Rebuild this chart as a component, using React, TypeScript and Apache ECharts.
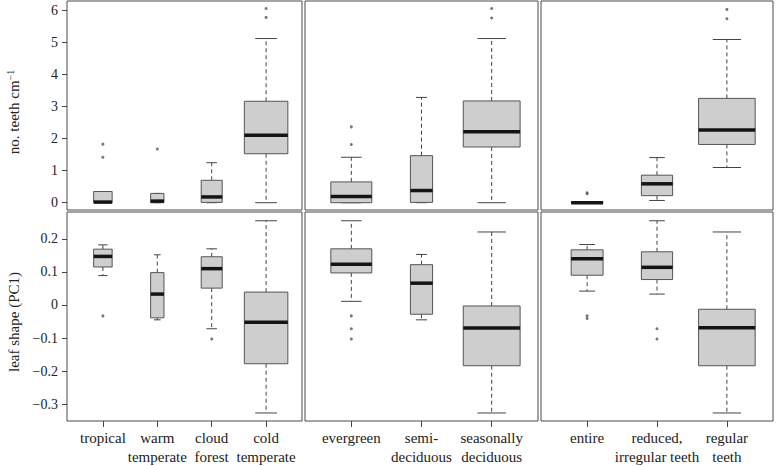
import React, { useEffect, useRef } from "react";
import * as echarts from "echarts";

// Categories
const climateCats = ["tropical", "warm\ntemperate", "cloud\nforest", "cold\ntemperate"];
const phenologyCats = ["evergreen", "semi-\ndeciduous", "seasonally\ndeciduous"];
const marginCats = ["entire", "reduced,\nirregular teeth", "regular\nteeth"];

// Relative box widths (varwidth, in category units)
const climateWidths = [0.34, 0.245, 0.386, 0.8];
const phenologyWidths = [0.584, 0.316, 0.81];
const marginWidths = [0.457, 0.447, 0.81];

// no. teeth cm^-1 : [low whisker, Q1, median, Q3, high whisker]
const teethClimate = [
  [0, 0, 0.02, 0.35, 0.35],
  [0, 0, 0.05, 0.29, 0.29],
  [0, 0.01, 0.18, 0.7, 1.25],
  [0, 1.53, 2.11, 3.17, 5.13],
];
const teethClimateOut = [[1.42, 1.83], [1.68], [], [5.79, 6.07]];
const teethPhenology = [
  [0, 0, 0.19, 0.65, 1.42],
  [0, 0.01, 0.38, 1.47, 3.29],
  [0, 1.74, 2.22, 3.18, 5.13],
];
const teethPhenologyOut = [[1.82, 2.37], [], [5.77, 6.07]];
const teethMargin = [
  [0, 0, 0, 0.01, 0.01],
  [0.07, 0.22, 0.59, 0.86, 1.41],
  [1.1, 1.82, 2.27, 3.26, 5.1],
];
const teethMarginOut = [[0.28, 0.31], [], [5.75, 6.04]];

// leaf shape (PC1)
const shapeClimate = [
  [0.089, 0.115, 0.147, 0.169, 0.182],
  [-0.045, -0.039, 0.033, 0.098, 0.152],
  [-0.072, 0.051, 0.11, 0.146, 0.17],
  [-0.327, -0.178, -0.052, 0.039, 0.255],
];
const shapeClimateOut = [[-0.033], [], [-0.103], []];
const shapePhenology = [
  [0.011, 0.097, 0.123, 0.17, 0.255],
  [-0.045, -0.028, 0.066, 0.122, 0.153],
  [-0.327, -0.184, -0.07, -0.003, 0.221],
];
const shapePhenologyOut = [[-0.033, -0.072, -0.103], [], []];
const shapeMargin = [
  [0.042, 0.09, 0.14, 0.167, 0.183],
  [0.033, 0.077, 0.114, 0.161, 0.255],
  [-0.327, -0.184, -0.069, -0.013, 0.221],
];
const shapeMarginOut = [[-0.033, -0.041], [-0.072, -0.103], []];

// Tick values
const teethTicks = [0, 1, 2, 3, 4, 5, 6];
const shapeTicks = [-0.3, -0.2, -0.1, 0, 0.1, 0.2];

const FONT = "'Liberation Serif', 'DejaVu Serif', serif";

const columns = [
  { cats: climateCats, widths: climateWidths, rows: [[teethClimate, teethClimateOut], [shapeClimate, shapeClimateOut]] },
  { cats: phenologyCats, widths: phenologyWidths, rows: [[teethPhenology, teethPhenologyOut], [shapePhenology, shapePhenologyOut]] },
  { cats: marginCats, widths: marginWidths, rows: [[teethMargin, teethMarginOut], [shapeMargin, shapeMarginOut]] },
];

const colLayout = [
  { left: 67, width: 235 },
  { left: 305, width: 233 },
  { left: 541, width: 232 },
];
const rowLayout = [
  { top: 1, height: 209, min: -0.228, max: 6.303, ticks: teethTicks },
  { top: 212, height: 212, min: -0.3513, max: 0.2815, ticks: shapeTicks },
];

function fmt(v: number) {
  const r = Math.round(v * 1000) / 1000;
  return r < 0 ? "\u2212" + String(Math.abs(r)) : String(r);
}

function renderBox(params: any, api: any) {
  const x = api.value(0);
  const low = api.value(1);
  const q1 = api.value(2);
  const med = api.value(3);
  const q3 = api.value(4);
  const high = api.value(5);
  const w = api.value(6);
  const cx = api.coord([x, med])[0];
  const yLow = api.coord([x, low])[1];
  const yQ1 = api.coord([x, q1])[1];
  const yMed = api.coord([x, med])[1];
  const yQ3 = api.coord([x, q3])[1];
  const yHigh = api.coord([x, high])[1];
  const half = api.size([w, 0])[0] / 2;
  const cap = half / 2;
  const dash = { stroke: "#444", lineWidth: 1, lineDash: [4, 3] };
  const solid = { stroke: "#444", lineWidth: 1 };
  const children: any[] = [];
  if (yHigh < yQ3 - 0.5) {
    children.push({ type: "line", shape: { x1: cx, y1: yQ3, x2: cx, y2: yHigh }, style: dash });
  }
  if (yLow > yQ1 + 0.5) {
    children.push({ type: "line", shape: { x1: cx, y1: yQ1, x2: cx, y2: yLow }, style: dash });
  }
  children.push({ type: "line", shape: { x1: cx - cap, y1: yHigh, x2: cx + cap, y2: yHigh }, style: solid });
  children.push({ type: "line", shape: { x1: cx - cap, y1: yLow, x2: cx + cap, y2: yLow }, style: solid });
  children.push({
    type: "rect",
    shape: { x: cx - half, y: yQ3, width: half * 2, height: Math.max(yQ1 - yQ3, 0.5) },
    style: { fill: "#cecece", stroke: "#555", lineWidth: 1 },
  });
  children.push({
    type: "line",
    shape: { x1: cx - half, y1: yMed, x2: cx + half, y2: yMed },
    style: { stroke: "#141414", lineWidth: 3.5 },
  });
  return { type: "group", children };
}

export default function App() {
  const ref = useRef<HTMLDivElement>(null);
  useEffect(() => {
    if (!ref.current) return;
    const chart = echarts.init(ref.current, undefined, { renderer: "svg" });
    const grid: any[] = [];
    const xAxis: any[] = [];
    const yAxis: any[] = [];
    const series: any[] = [];
    let idx = 0;
    rowLayout.forEach((row, r) => {
      columns.forEach((col, c) => {
        const n = col.cats.length;
        grid.push({
          left: colLayout[c].left,
          width: colLayout[c].width,
          top: row.top,
          height: row.height,
          show: true,
          borderColor: "#4a4a4a",
          borderWidth: 1,
          backgroundColor: "transparent",
        });
        const catIdx = col.cats.map((_, i) => i);
        xAxis.push({
          type: "value",
          gridIndex: idx,
          position: "bottom",
          min: -0.66,
          max: n - 1 + 0.66,
          axisLine: { show: false, onZero: false },
          splitLine: { show: false },
          axisTick: {
            show: r === 1,
            customValues: catIdx,
            length: 6,
            lineStyle: { color: "#444" },
          },
          axisLabel: {
            show: r === 1,
            customValues: catIdx,
            formatter: (v: number) => col.cats[Math.round(v)] ?? "",
            fontFamily: FONT,
            fontSize: 15,
            lineHeight: 19,
            color: "#222",
            margin: 7,
          },
        });
        yAxis.push({
          type: "value",
          gridIndex: idx,
          position: "left",
          min: row.min,
          max: row.max,
          axisLine: { show: false, onZero: false },
          splitLine: { show: false },
          axisTick: {
            show: c === 0,
            customValues: row.ticks,
            length: 5,
            lineStyle: { color: "#444" },
          },
          axisLabel: {
            show: c === 0,
            customValues: row.ticks,
            formatter: fmt,
            fontFamily: FONT,
            fontSize: 14,
            color: "#222",
            margin: 9,
          },
        });
        const [stats, outs] = col.rows[r];
        series.push({
          type: "custom",
          xAxisIndex: idx,
          yAxisIndex: idx,
          renderItem: renderBox,
          encode: { x: 0, y: [1, 2, 3, 4, 5] },
          data: stats.map((s: number[], i: number) => [i, ...s, col.widths[i]]),
          silent: true,
        });
        const pts: number[][] = [];
        outs.forEach((arr: number[], i: number) => arr.forEach((v) => pts.push([i, v])));
        series.push({
          type: "scatter",
          xAxisIndex: idx,
          yAxisIndex: idx,
          symbol: "circle",
          symbolSize: 3,
          itemStyle: { color: "#555" },
          data: pts,
          silent: true,
        });
        idx++;
      });
    });
    chart.setOption({
      animation: false,
      backgroundColor: "#ffffff",
      grid,
      xAxis,
      yAxis,
      series,
      graphic: [
        {
          type: "text",
          x: 14,
          y: 112,
          rotation: Math.PI / 2,
          style: {
            text: "{a|no. teeth cm}{s|\u22121}",
            align: "center",
            verticalAlign: "middle",
            fill: "#222",
            rich: {
              a: { fontFamily: FONT, fontSize: 15, fill: "#222" },
              s: { fontFamily: FONT, fontSize: 10, fill: "#222", verticalAlign: "top", padding: [0, 0, 8, 0] },
            },
          },
        },
        {
          type: "text",
          x: 14,
          y: 322,
          rotation: Math.PI / 2,
          style: {
            text: "leaf shape (PC1)",
            align: "center",
            verticalAlign: "middle",
            fontFamily: FONT,
            fontSize: 15,
            fill: "#222",
          },
        },
      ],
    });
    return () => chart.dispose();
  }, []);
  return (
    <div
      ref={ref}
      style={{ position: "fixed", left: 0, top: 0, width: 776, height: 466 }}
    />
  );
}
